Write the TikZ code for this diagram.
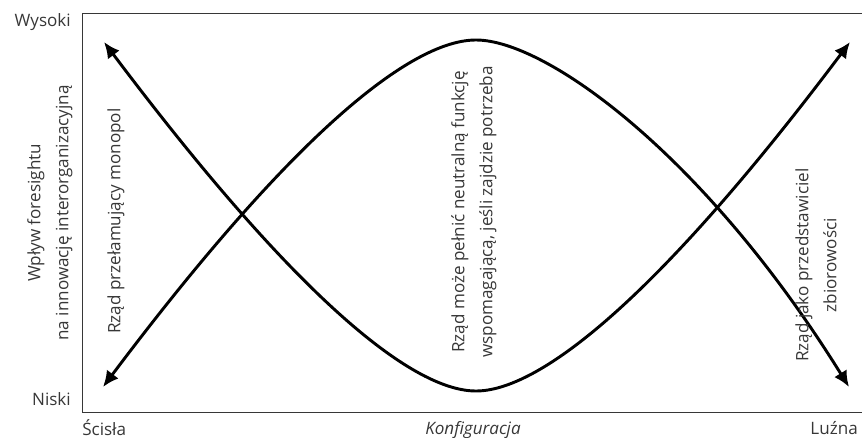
\documentclass[tikz,border=0pt]{standalone}
\usepackage{fontspec}
\setmainfont{Open Sans}
\usetikzlibrary{arrows.meta}
\usepackage{xcolor}
\definecolor{ChartGray}{RGB}{55,55,55}

\begin{document}
\begin{tikzpicture}[
x=0.75pt,y=-0.75pt,
lbl/.style={
inner sep=0pt,align=center,text=ChartGray,
font=\fontsize{12.8}{21}\selectfont
},
curve/.style={{Latex[length=12pt,width=11pt]}-{Latex[length=12pt,width=11pt]},line width=2.2pt},
frame/.style={draw=ChartGray,line width=0.7pt}
]
\useasboundingbox (0,0) rectangle (862,438);

% frame
\draw[frame] (862,13) -- (82,13) -- (82,412) -- (862,412);

% end points and turning points
\coordinate (tl) at (104,42);
\coordinate (bl) at (103,387);
\coordinate (tr) at (850,42);
\coordinate (br) at (849,387);
\coordinate (peak) at (476,40);
\coordinate (trough) at (476,391);

\draw[curve] (bl) .. controls (303,121) and (416,40) .. (peak)
  .. controls (546,40) and (705,155) .. (br);
\draw[curve] (tl) .. controls (304,308) and (416,391) .. (trough)
  .. controls (536,391) and (650,308) .. (tr);

% axis labels
\node[lbl,anchor=base east] (high) at (71,27) {Wysoki};
\node[lbl,anchor=base east] (low) at (71,405) {Niski};
\node[lbl,anchor=base west] (tight) at (82,435) {Ścisła};
\node[lbl,anchor=base,font=\fontsize{12.8}{21}\selectfont\itshape] (config) at (473,434) {Konfiguracja};
\node[lbl,anchor=base east] (loose) at (858,434) {Luźna};
\node[lbl,rotate=90] (impact) at (50,213) {Wpływ foresightu\\na innowację interorganizacyjną};

% regions
\node[lbl,rotate=90,anchor=west] (monopol) at (116,334) {Rząd przełamujący monopol};
\node[lbl,rotate=90] (neutral) at (474,212) {Rząd może pełnić neutralną funkcję\\wspomagającą, jeśli zajdzie potrzeba};
\node[lbl,rotate=90,anchor=west] (collective) at (816,362) {Rząd jako przedstawiciel\\zbiorowości};

\end{tikzpicture}
\end{document}
